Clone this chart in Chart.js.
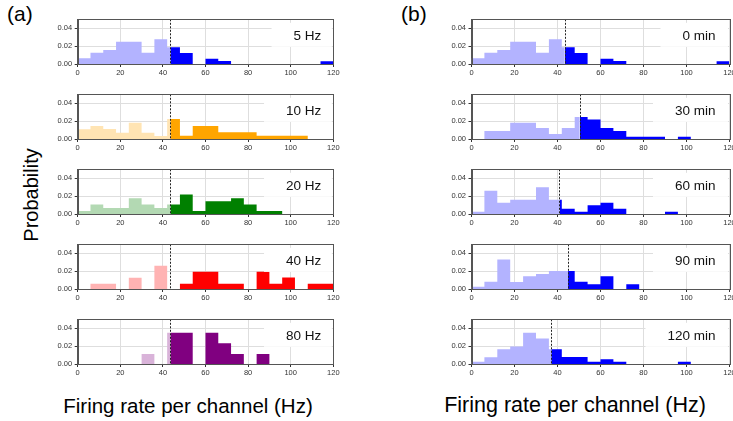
<!DOCTYPE html>
<html><head><meta charset="utf-8">
<script src="https://cdn.jsdelivr.net/npm/chart.js@4.4.1/dist/chart.umd.min.js"></script>
<style>
body{margin:0;background:#fff;}
#wrap{position:relative;width:733px;height:421px;overflow:hidden;font-family:"Liberation Sans",Arial,sans-serif;color:#000;background:#fff;}
canvas{position:absolute;}
.t{position:absolute;white-space:nowrap;line-height:1;}
</style></head><body><div id="wrap">
<div class="t" style="left:7px;top:3px;font-size:21px;">(a)</div>
<div class="t" style="left:401px;top:3px;font-size:21px;">(b)</div>
<div class="t" style="left:31px;top:195px;font-size:20px;transform:translate(-50%,-50%) rotate(-90deg);">Probability</div>
<div class="t" style="left:188px;top:406px;font-size:20.5px;transform:translate(-50%,-50%);">Firing rate per channel (Hz)</div>
<div class="t" style="left:575px;top:406px;font-size:21.5px;transform:translate(-50%,-50%);">Firing rate per channel (Hz)</div>
</div>
<script>
// ---------- data ----------
const binEdges = [0,6,12,18,24,30,36,42,48,54,60,66,72,78,84,90,96,102,108,114,120];
const xTicks = [0,20,40,60,80,100,120];
const yTicks = [0,0.02,0.04];
const panelLabelsA = ["5 Hz","10 Hz","20 Hz","40 Hz","80 Hz"];
const panelLabelsB = ["0 min","30 min","60 min","90 min","120 min"];
const thresholdsA = [43.5,43.5,43.5,43.5,43.5];
const thresholdsB = [43.3,50.3,40.9,44.9,37.1];

const prob5Hz  = [0.0064,0.0127,0.0157,0.025,0.025,0.0127,0.0277,0.0187,0.0123,0,0.006,0.0034,0,0,0,0,0,0,0,0.003];
const prob10Hz = [0.0108,0.0146,0.0112,0.0071,0.0183,0.0071,0.0034,0.0224,0.0037,0.0146,0.0146,0.0075,0.0075,0.0075,0.0037,0.0037,0.0037,0.0037,0,0];
const prob20Hz = [0.0034,0.0105,0.0067,0.0067,0.0176,0.0105,0.0067,0.0105,0.0217,0.0034,0.0142,0.0142,0.0176,0.0105,0.0034,0.0034,0,0,0,0];
const prob40Hz = [0,0.006,0.006,0,0.0127,0,0.026,0,0.006,0.0194,0.0194,0.006,0.006,0,0.0194,0.006,0.013,0,0.006,0.006];
const prob80Hz = [0,0,0,0,0,0.0112,0,0.035,0.035,0,0.035,0.0232,0.0112,0,0.0112,0,0,0,0,0];

const prob0min   = [0.0064,0.0127,0.0157,0.025,0.025,0.0127,0.0277,0.0187,0.0123,0,0.006,0.0034,0,0,0,0,0,0,0,0.003];
const prob30min  = [0,0.009,0.009,0.0183,0.0183,0.0123,0.0056,0.0123,0.0247,0.0217,0.0123,0.009,0.0026,0.0026,0.0026,0,0.0026,0,0,0];
const prob60min  = [0.0026,0.026,0.0127,0.016,0.016,0.03,0.016,0.006,0.0026,0.0097,0.0127,0.006,0,0,0,0.0026,0,0,0,0];
const prob90min  = [0.0025,0.0082,0.033,0.0079,0.0142,0.0168,0.02,0.02,0.0082,0.0052,0.0142,0,0.0052,0,0,0,0,0,0,0];
const prob120min = [0.0025,0.0075,0.0165,0.0195,0.035,0.0285,0.0165,0.0079,0.0079,0.0026,0.0052,0.0026,0,0,0,0,0.0026,0,0,0];

const seriesA = [prob5Hz,prob10Hz,prob20Hz,prob40Hz,prob80Hz];
const seriesB = [prob0min,prob30min,prob60min,prob90min,prob120min];

// ---------- styles ----------
const style = {
  lightA: ['#b3b3ff','#ffe4b3','#b3d9b3','#ffb3b3','#d9b3d9'],
  darkA:  ['#0000ff','#ffa500','#008000','#ff0000','#800080'],
  lightB: '#b3b3ff', darkB: '#0000ff',
  grid: '#dedede', frame: '#555', tickText: '#333'
};

function splitHist(heights, thr){
  const light = [], dark = [];
  for (let i = 0; i < heights.length; i++){
    const l = binEdges[i], r = binEdges[i+1];
    if (l < thr) light.push({x:l, y:heights[i]});
    if (r > thr) dark.push({x:Math.max(l,thr), y:heights[i]});
  }
  light.push({x:thr, y:0});
  dark.push({x:binEdges[binEdges.length-1], y:0});
  return {light, dark};
}

const decor = {
  id:'decor',
  afterDatasetsDraw(chart, args, o){
    const {ctx, chartArea:a, scales:{x}} = chart;
    ctx.save();
    const px = Math.round(x.getPixelForValue(o.threshold)) + 0.5;
    ctx.strokeStyle = '#222'; ctx.lineWidth = 1; ctx.setLineDash([2,1.5]);
    ctx.beginPath(); ctx.moveTo(px, a.top); ctx.lineTo(px, a.bottom); ctx.stroke();
    ctx.setLineDash([]);
    ctx.font = '13.5px "Liberation Sans", Arial, sans-serif';
    const w = ctx.measureText(o.label).width;
    const tr = a.right - o.textPad;
    ctx.fillStyle = '#fff';
    ctx.fillRect(tr - w - 22, a.top + 3.5, a.right - 1.5 - (tr - w - 22), 24);
    ctx.fillStyle = '#111'; ctx.textAlign = 'right'; ctx.textBaseline = 'middle';
    ctx.fillText(o.label, tr, a.top + 16.5);
    ctx.strokeStyle = style.frame; ctx.lineWidth = 1;
    ctx.strokeRect(Math.round(a.left)+0.5, Math.round(a.top)+0.5, Math.round(a.right)-Math.round(a.left), Math.round(a.bottom)-Math.round(a.top));
    ctx.restore();
  }
};

function makePanel(left, top, width, yW, padR, heights, thr, label, lightC, darkC, textPad){
  const cv = document.createElement('canvas');
  cv.width = width; cv.height = 70;
  cv.style.left = left + 'px'; cv.style.top = top + 'px';
  cv.style.width = width + 'px'; cv.style.height = '70px';
  document.getElementById('wrap').appendChild(cv);
  const h = splitHist(heights, thr);
  const tickFont = {family:'"Liberation Sans", Arial, sans-serif', size:7.5};
  new Chart(cv, {
    type:'line',
    data:{datasets:[
      {data:h.light, stepped:'before', fill:'origin', backgroundColor:lightC, borderWidth:0, pointRadius:0},
      {data:h.dark, stepped:'before', fill:'origin', backgroundColor:darkC, borderWidth:0, pointRadius:0}
    ]},
    options:{
      responsive:false, animation:false, events:[],
      layout:{padding:{left:0, right:padR, top:9.3, bottom:0}},
      plugins:{legend:{display:false}, tooltip:{enabled:false}, decor:{threshold:thr, label:label, textPad:textPad}},
      scales:{
        x:{type:'linear', min:0, max:120,
          afterBuildTicks:s=>{s.ticks = xTicks.map(v=>({value:v}));},
          afterFit:s=>{s.height = 16; s.paddingLeft = 0; s.paddingRight = 0;},
          ticks:{font:tickFont, color:style.tickText, padding:1, maxRotation:0, autoSkip:false, callback:v=>String(v)},
          grid:{color:style.grid, tickColor:'#333', tickLength:3},
          border:{color:style.frame}
        },
        y:{type:'linear', min:0, max:0.05,
          afterBuildTicks:s=>{s.ticks = yTicks.map(v=>({value:v}));},
          afterFit:s=>{s.width = yW; s.paddingTop = 0; s.paddingBottom = 0;},
          ticks:{font:tickFont, color:style.tickText, padding:2.5, callback:v=>Number(v).toFixed(2)},
          grid:{color:style.grid, tickColor:'#333', tickLength:3},
          border:{color:style.frame}
        }
      }
    },
    plugins:[decor]
  });
}

for (let i = 0; i < 5; i++){
  makePanel(40, 10 + 75*i, 300, 37.7, 6.7, seriesA[i], thresholdsA[i], panelLabelsA[i], style.lightA[i], style.darkA[i], 12);
  makePanel(430, 10 + 75*i, 303, 41.5, 3.5, seriesB[i], thresholdsB[i], panelLabelsB[i], style.lightB, style.darkB, 14);
}
</script></body></html>
